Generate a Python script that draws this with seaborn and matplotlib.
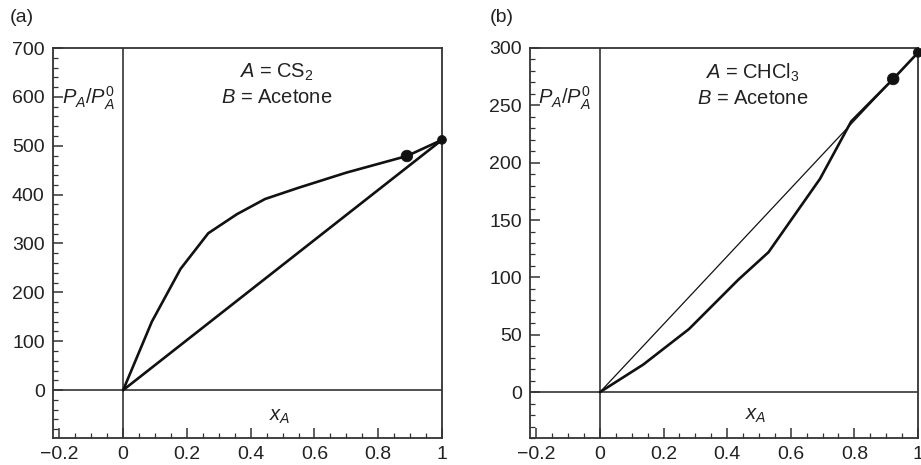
import numpy as np
import pandas as pd
import matplotlib
matplotlib.use("Agg")
import matplotlib.pyplot as plt
from matplotlib.ticker import MultipleLocator, FuncFormatter
import seaborn as sns

# panel (a): A = CS2, B = Acetone
xa_curve = [0.0, 0.09, 0.18, 0.267, 0.357, 0.445, 0.55, 0.70, 0.89, 1.0]
ya_curve = [0, 140, 248, 321, 360, 391, 414, 445, 479, 512]
xa_dots = [0.89, 1.0]
ya_dots = [479, 512]
xa_ideal = [0.0, 1.0]
ya_ideal = [0, 512]

# panel (b): A = CHCl3, B = Acetone
xb_curve = [0.0, 0.136, 0.28, 0.435, 0.53, 0.692, 0.79, 0.922, 1.0]
yb_curve = [0, 24, 55, 98, 122, 186, 236, 273, 296]
xb_dots = [0.922, 1.0]
yb_dots = [273, 296]
xb_ideal = [0.0, 1.0]
yb_ideal = [0, 296]

x_ticks = [-0.2, 0, 0.2, 0.4, 0.6, 0.8, 1]


def fmt_x(v, pos):
    if abs(v) < 1e-9:
        return "0"
    if abs(v - 1) < 1e-9:
        return "1"
    return f"{v:.1f}".replace("-", "\u2212")


def draw_panel(ax, xc, yc, xd, yd, xi, yi, ylim, ymajor, yminor, ideal_lw,
               label, big_size, small_size, text_y):
    ink = "#111111"
    ax.axvline(0, color="#333333", lw=1.2, zorder=1)
    ax.axhline(0, color="#333333", lw=1.2, zorder=1)
    sns.lineplot(x=xi, y=yi, ax=ax, color=ink, lw=ideal_lw, sort=False,
                 estimator=None, zorder=2)
    sns.lineplot(x=xc, y=yc, ax=ax, color=ink, lw=1.9, sort=False,
                 estimator=None, zorder=3)
    sns.scatterplot(x=xd, y=yd, ax=ax, color=ink,
                    size=[big_size, small_size], sizes=(small_size, big_size),
                    legend=False, edgecolor=ink, zorder=4, clip_on=False)
    ax.set_xlim(-0.22, 1.0)
    ax.set_ylim(*ylim)
    ax.set_xticks(x_ticks)
    ax.xaxis.set_major_formatter(FuncFormatter(fmt_x))
    ax.xaxis.set_minor_locator(MultipleLocator(0.05))
    ax.yaxis.set_major_locator(MultipleLocator(ymajor))
    ax.yaxis.set_minor_locator(MultipleLocator(yminor))
    ax.tick_params(which="both", direction="in", top=False, right=False,
                   color="#333333", labelsize=14, labelcolor="#222222")
    ax.tick_params(which="major", length=7, width=1.1, pad=6)
    ax.tick_params(which="minor", length=3.5, width=0.9)
    for s in ax.spines.values():
        s.set_color("#333333")
        s.set_linewidth(1.3)
    ax.set_xlabel("")
    ax.set_ylabel("")
    ax.text(-0.11, text_y[0], r"$P_A/P_A^0$", ha="center", va="center",
            fontsize=14.5, color="#222222")
    ax.text(0.49, text_y[1], r"$x_A$", ha="center", va="center",
            fontsize=14.5, color="#222222")
    ax.text(0.48, text_y[2], label, ha="center", va="center",
            fontsize=14.5, color="#222222")
    ax.text(0.48, text_y[3], r"$B$ = Acetone", ha="center", va="center",
            fontsize=14.5, color="#222222")


sns.set_theme(style="ticks")
plt.rcParams["font.family"] = ["Liberation Sans", "DejaVu Sans"]
plt.rcParams["mathtext.fontset"] = "custom"
plt.rcParams["mathtext.rm"] = "Liberation Sans"
plt.rcParams["mathtext.it"] = "Liberation Sans:italic"
plt.rcParams["axes.unicode_minus"] = True

fig = plt.figure(figsize=(9.21, 4.65), dpi=100)
ax1 = fig.add_axes([53 / 921, 1 - 438 / 465, 389 / 921, 390 / 465])
ax2 = fig.add_axes([530 / 921, 1 - 438 / 465, 388 / 921, 390 / 465])

draw_panel(ax1, xa_curve, ya_curve, xa_dots, ya_dots, xa_ideal, ya_ideal,
           (-98, 700), 100, 20, 1.9, r"$A$ = CS$_2$", 70, 40,
           (598, -55, 650, 598))
draw_panel(ax2, xb_curve, yb_curve, xb_dots, yb_dots, xb_ideal, yb_ideal,
           (-40, 300), 50, 10, 0.9, r"$A$ = CHCl$_3$", 70, 45,
           (256, -20, 278, 256))

fig.text(10 / 921, 1 - 18 / 465, "(a)", fontsize=14, color="#222222",
         va="center", ha="left")
fig.text(490 / 921, 1 - 18 / 465, "(b)", fontsize=14, color="#222222",
         va="center", ha="left")

fig.savefig("out.png", dpi=100)
